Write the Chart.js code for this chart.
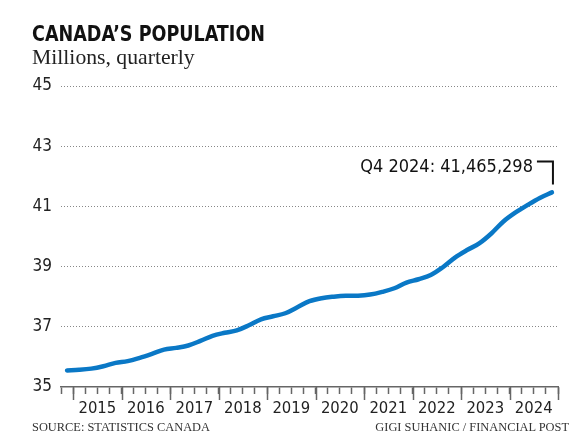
<!DOCTYPE html>
<html>
<head>
<meta charset="utf-8">
<script src="https://cdn.jsdelivr.net/npm/chart.js@4.4.0/dist/chart.umd.min.js"></script>
<style>
  body { margin: 0; background: #fff; }
  #wrap { position: relative; width: 585px; height: 448px; }
  #wrap canvas { position: absolute; left: 0; top: 0; }
  .txt { position: absolute; white-space: nowrap; color: #111; }
  #title { left: 32px; top: 22px; font: bold 21px "Liberation Sans Narrow", "DejaVu Sans Condensed", Roboto, sans-serif; transform: scaleX(0.93); transform-origin: 0 0; }
  #sub { left: 32px; top: 45px; font: 21.7px "Liberation Serif", "DejaVu Serif", serif; color: #222; }
  #src { left: 32px; top: 420px; font: 12.4px "Liberation Serif", "DejaVu Serif", serif; color: #333; }
  #credit { right: 16px; top: 420px; font: 12.4px "Liberation Serif", "DejaVu Serif", serif; color: #333; }
</style>
</head>
<body>
<div id="wrap">
  <canvas id="popChart"></canvas>
  <div class="txt" id="title">CANADA’S POPULATION</div>
  <div class="txt" id="sub">Millions, quarterly</div>
  <div class="txt" id="src">SOURCE: STATISTICS CANADA</div>
  <div class="txt" id="credit">GIGI SUHANIC / FINANCIAL POST</div>
</div>
<script>
// quarterly data, Q4 2014 .. Q4 2024 (millions)
var quarters = ["Q4 2014",
  "Q1 2015","Q2 2015","Q3 2015","Q4 2015",
  "Q1 2016","Q2 2016","Q3 2016","Q4 2016",
  "Q1 2017","Q2 2017","Q3 2017","Q4 2017",
  "Q1 2018","Q2 2018","Q3 2018","Q4 2018",
  "Q1 2019","Q2 2019","Q3 2019","Q4 2019",
  "Q1 2020","Q2 2020","Q3 2020","Q4 2020",
  "Q1 2021","Q2 2021","Q3 2021","Q4 2021",
  "Q1 2022","Q2 2022","Q3 2022","Q4 2022",
  "Q1 2023","Q2 2023","Q3 2023","Q4 2023",
  "Q1 2024","Q2 2024","Q3 2024","Q4 2024"];
var population = [35.55,
  35.57, 35.61, 35.69, 35.80,
  35.86, 35.97, 36.10, 36.24,
  36.30, 36.38, 36.53, 36.70,
  36.80, 36.88, 37.05, 37.25,
  37.35, 37.45, 37.65, 37.85,
  37.95, 38.00, 38.03, 38.03,
  38.07, 38.16, 38.28, 38.47,
  38.58, 38.72, 38.98, 39.30,
  39.55, 39.77, 40.10, 40.50,
  40.80, 41.05, 41.28, 41.465];
var yearLabels = ["2015","2016","2017","2018","2019","2020","2021","2022","2023","2024"];
var yTicks = [35, 37, 39, 41, 43, 45];
var lastLabel = "Q4 2024: 41,465,298";

var narrow = '"Liberation Sans Narrow", "DejaVu Sans Condensed", Roboto, sans-serif';

// each quarter sits in the middle of its quarter on a year axis
var points = [];
for (var i = 0; i < quarters.length; i++) {
  var q = parseInt(quarters[i].charAt(1));
  var yr = parseInt(quarters[i].substr(3));
  points.push({x: yr + (q - 0.5) / 4, y: population[i]});
}

var annotate = {
  id: 'annotate',
  afterDatasetsDraw: function(chart) {
    var c = chart.ctx;
    var meta = chart.getDatasetMeta(0);
    var p = meta.data[meta.data.length - 1];
    var top = p.y - 31;
    c.save();
    c.strokeStyle = '#111';
    c.lineWidth = 2;
    c.beginPath();
    c.moveTo(p.x - 15, top);
    c.lineTo(p.x + 1, top);
    c.lineTo(p.x + 1, p.y - 8);
    c.stroke();
    c.fillStyle = '#111';
    c.font = '18px ' + narrow;
    c.textAlign = 'right';
    c.textBaseline = 'middle';
    c.fillText(lastLabel, p.x - 19, top + 6);
    c.restore();
  }
};

// longer marks at year boundaries
var yearTicks = {
  id: 'yearTicks',
  afterDraw: function(chart) {
    var xs = chart.scales.x;
    var c = chart.ctx;
    c.save();
    c.strokeStyle = '#666';
    c.lineWidth = 1.5;
    for (var i = 0; i <= yearLabels.length; i++) {
      var v = parseInt(yearLabels[0]) + i;
      var px = Math.round(xs.getPixelForValue(v)) + 0.5;
      c.beginPath();
      c.moveTo(px, xs.top);
      c.lineTo(px, xs.top + 13);
      c.stroke();
    }
    c.restore();
  }
};

var ctx = document.getElementById("popChart").getContext('2d');
var popChart = new Chart(ctx, {
  type: 'line',
  data: {
    datasets: [{
      label: 'Population',
      data: points,
      borderColor: '#0a78c6',
      borderWidth: 4.5,
      borderCapStyle: 'round',
      borderJoinStyle: 'round',
      tension: 0.35,
      pointRadius: 0,
      fill: false
    }]
  },
  options: {
    responsive: true,
    maintainAspectRatio: false,
    animation: false,
    layout: { padding: { left: 0, right: 27, top: 86, bottom: 0 } },
    plugins: {
      legend: { display: false },
      tooltip: { enabled: false }
    },
    scales: {
      x: {
        type: 'linear',
        min: 2014.75,
        max: 2025,
        afterFit: function(s) { s.height = 61; },
        grid: {
          drawOnChartArea: false,
          tickLength: 7,
          tickColor: '#666',
          tickWidth: 1.5
        },
        border: { display: true, color: '#666', width: 1.5 },
        ticks: {
          stepSize: 0.25,
          autoSkip: false,
          maxRotation: 0,
          padding: 5,
          color: '#222',
          font: { family: narrow, size: 16.5 },
          callback: function(v) {
            var f = v - Math.floor(v);
            if (Math.abs(f - 0.5) < 0.01) {
              var idx = Math.floor(v) - parseInt(yearLabels[0]);
              return yearLabels[idx] || '';
            }
            return '';
          }
        }
      },
      y: {
        min: 35,
        max: 45,
        afterFit: function(s) { s.width = 61; },
        afterBuildTicks: function(s) {
          s.ticks = yTicks.map(function(v) { return {value: v}; });
        },
        grid: {
          drawTicks: false,
          color: function(c) { return c.tick && c.tick.value === 35 ? 'rgba(0,0,0,0)' : '#888'; },
          lineWidth: 1
        },
        border: { display: false, dash: [1, 2] },
        ticks: {
          padding: 9,
          color: '#222',
          font: { family: narrow, size: 17 }
        }
      }
    }
  },
  plugins: [annotate, yearTicks]
});
</script>
</body>
</html>
